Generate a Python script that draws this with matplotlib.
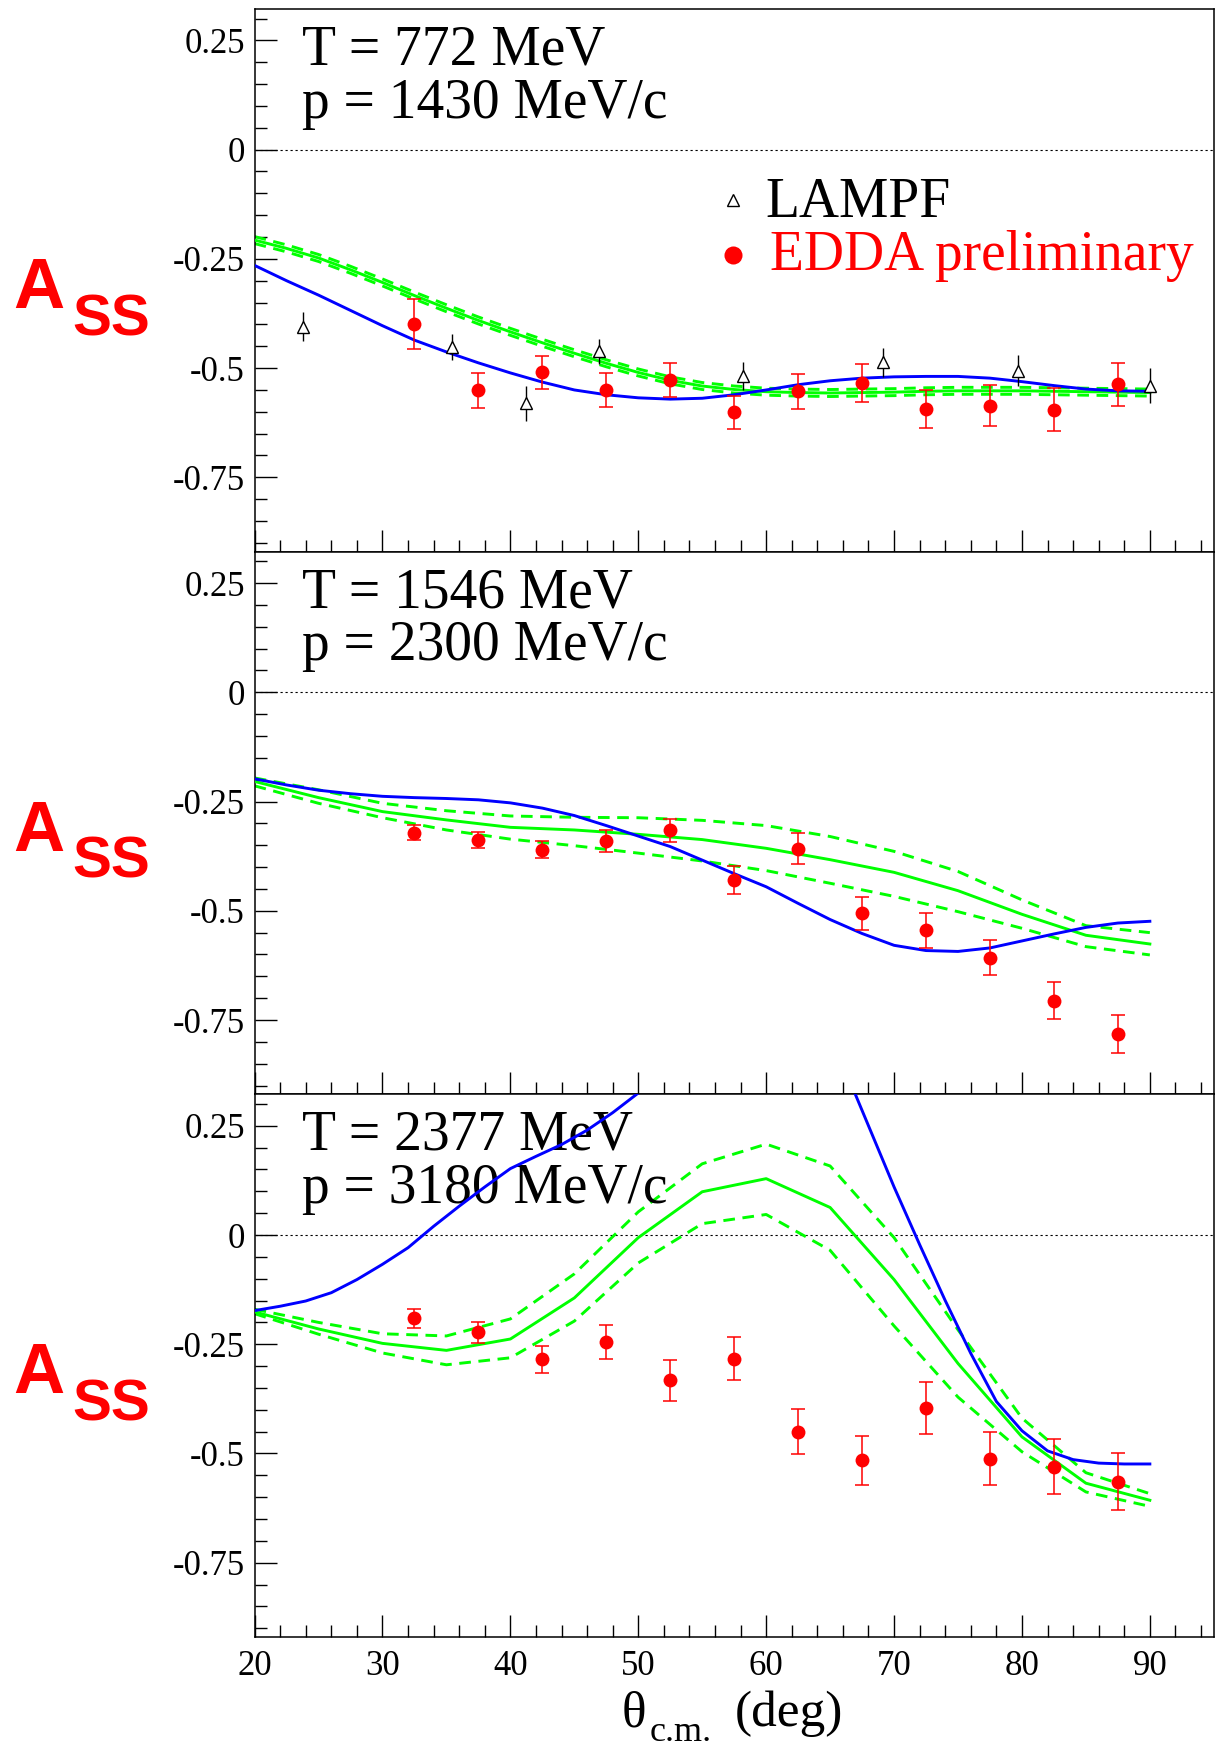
import numpy as np
import matplotlib.pyplot as plt
from matplotlib.ticker import MultipleLocator, FuncFormatter

plt.rcParams['font.family'] = ['Liberation Serif', 'DejaVu Serif']
plt.rcParams['mathtext.fontset'] = 'stix'
plt.rcParams['axes.unicode_minus'] = False

# ---- EDDA (preliminary), same angles at every energy ----
edda_theta = [32.5, 37.5, 42.5, 47.5, 52.5, 57.5, 62.5, 67.5, 72.5, 77.5, 82.5, 87.5]

edda_772 = [-0.399, -0.551, -0.510, -0.550, -0.527, -0.601, -0.553, -0.534, -0.593, -0.586, -0.595, -0.537]
edda_772_err = [0.057, 0.040, 0.037, 0.038, 0.038, 0.038, 0.040, 0.043, 0.044, 0.047, 0.050, 0.049]

edda_1546 = [-0.321, -0.338, -0.360, -0.341, -0.316, -0.430, -0.358, -0.506, -0.545, -0.607, -0.706, -0.782]
edda_1546_err = [0.018, 0.018, 0.020, 0.025, 0.027, 0.032, 0.035, 0.038, 0.040, 0.041, 0.042, 0.043]

edda_2377 = [-0.191, -0.222, -0.284, -0.245, -0.332, -0.283, -0.450, -0.515, -0.396, -0.512, -0.530, -0.565]
edda_2377_err = [0.021, 0.024, 0.031, 0.038, 0.047, 0.049, 0.052, 0.056, 0.060, 0.061, 0.063, 0.065]

# ---- LAMPF, 772 MeV only ----
lampf_theta = [23.8, 35.4, 41.2, 46.9, 58.2, 69.1, 79.7, 90.0]
lampf_772 = [-0.405, -0.452, -0.580, -0.462, -0.518, -0.487, -0.506, -0.540]
lampf_772_err = [0.034, 0.030, 0.040, 0.028, 0.031, 0.033, 0.035, 0.040]

# ---- model curves ----
# 772 MeV
th_772 = [20, 22.5, 25, 27.5, 30, 32.5, 35, 37.5, 40, 42.5, 45, 47.5, 50, 52.5, 55,
          57.5, 60, 62.5, 65, 67.5, 70, 72.5, 75, 77.5, 80, 82.5, 85, 87.5, 90]
blue_772 = [-0.265, -0.300, -0.333, -0.368, -0.403, -0.436, -0.463, -0.488, -0.511, -0.532,
            -0.550, -0.561, -0.568, -0.571, -0.569, -0.561, -0.550, -0.538, -0.529, -0.523,
            -0.520, -0.519, -0.519, -0.523, -0.531, -0.540, -0.548, -0.552, -0.553]
green_772 = [-0.207, -0.226, -0.248, -0.275, -0.304, -0.334, -0.363, -0.391, -0.417, -0.442,
             -0.466, -0.489, -0.510, -0.528, -0.541, -0.549, -0.554, -0.556, -0.557, -0.556,
             -0.555, -0.553, -0.552, -0.552, -0.552, -0.553, -0.554, -0.555, -0.556]
green_772_hi = [-0.199, -0.218, -0.240, -0.267, -0.296, -0.326, -0.355, -0.383, -0.409, -0.434,
                -0.458, -0.481, -0.502, -0.520, -0.533, -0.541, -0.546, -0.548, -0.549, -0.548,
                -0.547, -0.545, -0.544, -0.544, -0.544, -0.545, -0.546, -0.547, -0.548]
green_772_lo = [-0.215, -0.234, -0.256, -0.283, -0.312, -0.342, -0.371, -0.399, -0.425, -0.450,
                -0.474, -0.497, -0.518, -0.536, -0.549, -0.557, -0.562, -0.564, -0.565, -0.564,
                -0.563, -0.561, -0.560, -0.560, -0.560, -0.561, -0.562, -0.563, -0.564]

# 1546 MeV
th_1546_blue = th_772
blue_1546 = [-0.198, -0.212, -0.224, -0.232, -0.238, -0.241, -0.243, -0.246, -0.253, -0.265,
             -0.282, -0.305, -0.329, -0.353, -0.384, -0.415, -0.445, -0.483, -0.520, -0.552,
             -0.579, -0.591, -0.593, -0.585, -0.569, -0.553, -0.538, -0.528, -0.524]
th_green = [20, 25, 30, 35, 40, 45, 50, 55, 60, 65, 70, 75, 80, 85, 90]
green_1546 = [-0.204, -0.241, -0.273, -0.292, -0.309, -0.315, -0.325, -0.337, -0.357, -0.383,
              -0.412, -0.454, -0.508, -0.556, -0.576]
green_1546_hi = [-0.196, -0.223, -0.254, -0.271, -0.283, -0.286, -0.287, -0.293, -0.305, -0.330,
                 -0.364, -0.410, -0.475, -0.534, -0.550]
green_1546_lo = [-0.214, -0.254, -0.287, -0.315, -0.336, -0.351, -0.368, -0.386, -0.408, -0.437,
                 -0.467, -0.502, -0.540, -0.582, -0.601]

# 2377 MeV
th_2377_blue = [20, 22, 24, 26, 28, 30, 32, 34, 36, 38, 40, 42, 44, 46, 48, 50, 52, 54,
                56, 58, 60, 62, 64, 66, 68, 70, 72, 74, 76, 78, 80, 82, 84, 86, 88, 90]
blue_2377 = [-0.173, -0.163, -0.151, -0.132, -0.102, -0.067, -0.029, 0.020, 0.066, 0.110,
             0.152, 0.180, 0.207, 0.240, 0.280, 0.325, 0.370, 0.410, 0.450, 0.480,
             0.500, 0.500, 0.470, 0.390, 0.250, 0.110, -0.022, -0.150, -0.271, -0.381,
             -0.448, -0.494, -0.514, -0.522, -0.524, -0.524]
green_2377 = [-0.176, -0.215, -0.248, -0.264, -0.238, -0.144, -0.006, 0.099, 0.129, 0.063,
              -0.102, -0.294, -0.462, -0.568, -0.607]
green_2377_hi = [-0.170, -0.200, -0.226, -0.231, -0.192, -0.089, 0.053, 0.163, 0.208, 0.158,
                 -0.006, -0.217, -0.419, -0.544, -0.592]
green_2377_lo = [-0.180, -0.227, -0.270, -0.297, -0.281, -0.197, -0.064, 0.026, 0.047, -0.035,
                 -0.208, -0.371, -0.496, -0.588, -0.621]

energy_labels = [('T = 772 MeV', 'p = 1430 MeV/c'),
                 ('T = 1546 MeV', 'p = 2300 MeV/c'),
                 ('T = 2377 MeV', 'p = 3180 MeV/c')]

panels = [
    dict(blue=(th_772, blue_772),
         green=(th_772, green_772, green_772_hi, green_772_lo),
         edda=(edda_772, edda_772_err)),
    dict(blue=(th_1546_blue, blue_1546),
         green=(th_green, green_1546, green_1546_hi, green_1546_lo),
         edda=(edda_1546, edda_1546_err)),
    dict(blue=(th_2377_blue, blue_2377),
         green=(th_green, green_2377, green_2377_hi, green_2377_lo),
         edda=(edda_2377, edda_2377_err)),
]

W, H = 1216, 1751
fig = plt.figure(figsize=(W / 100, H / 100), dpi=100)

left, right = 254.6 / W, 1213.8 / W
bottom, top = 0.0651, 0.9949
ph = (top - bottom) / 3

RED = '#ff0000'
BLUE = '#0000ff'
GREEN = '#00ff00'

yfmt = FuncFormatter(lambda v, pos: '0' if abs(v) < 1e-9 else ('%g' % v))

for i, (pan, (tline, pline)) in enumerate(zip(panels, energy_labels)):
    ax = fig.add_axes([left, top - (i + 1) * ph, right - left, ph])
    ax.set_xlim(20, 95)
    ax.set_ylim(-0.92, 0.322)

    # zero reference
    ax.axhline(0, color='black', lw=0.8, ls=(0, (2, 2.5)), zorder=1)

    # model curves
    th, g, ghi, glo = pan['green']
    ax.plot(th, ghi, color=GREEN, lw=2.1, dashes=(4, 2.6), zorder=2)
    ax.plot(th, glo, color=GREEN, lw=2.1, dashes=(4, 2.6), zorder=2)
    ax.plot(th, g, color=GREEN, lw=2.1, zorder=3)
    bt, by = pan['blue']
    ax.plot(bt, by, color=BLUE, lw=2.1, zorder=4)

    # data
    ey, ee = pan['edda']
    ax.errorbar(edda_theta, ey, yerr=ee, fmt='none', ecolor=RED,
                elinewidth=1.1, capsize=5, capthick=1.1, zorder=6)
    ax.plot(edda_theta, ey, 'o', color=RED, ms=10, mew=0, zorder=7)
    if i == 0:
        ax.errorbar(lampf_theta, lampf_772, yerr=lampf_772_err, fmt='none',
                    ecolor='black', elinewidth=1.0, capsize=0, zorder=5)
        ax.plot(lampf_theta, lampf_772, '^', ms=9, mfc='white', mec='black',
                mew=1.0, zorder=5.5)
        # legend
        ax.plot([0.4988], [0.6479], transform=ax.transAxes, marker='^', ms=9,
                mfc='white', mec='black', mew=1.0, ls='none', clip_on=False)
        ax.text(0.5327, 0.6171, 'LAMPF', transform=ax.transAxes, fontsize=40,
                color='black', va='baseline', ha='left')
        ax.plot([0.4988], [0.5465], transform=ax.transAxes, marker='o', ms=13,
                color=RED, mew=0, ls='none', clip_on=False)
        ax.text(0.5374, 0.5189, 'EDDA preliminary', transform=ax.transAxes,
                fontsize=40, color=RED, va='baseline', ha='left')

    ax.text(0.049, 0.8976, tline, transform=ax.transAxes, fontsize=40,
            va='baseline', ha='left')
    ax.text(0.049, 0.7994, pline, transform=ax.transAxes, fontsize=40,
            va='baseline', ha='left')

    # A_SS label
    ax.text(-0.2519, 0.4489, 'A', transform=ax.transAxes, fontsize=51,
            fontweight='bold', family='Liberation Sans', color=RED,
            va='baseline', ha='left')
    ax.text(-0.1904, 0.3991, 'SS', transform=ax.transAxes, fontsize=42,
            fontweight='bold', family='Liberation Sans', color=RED,
            va='baseline', ha='left')

    ax.xaxis.set_major_locator(MultipleLocator(10))
    ax.xaxis.set_minor_locator(MultipleLocator(2))
    ax.yaxis.set_major_locator(MultipleLocator(0.25))
    ax.yaxis.set_minor_locator(MultipleLocator(0.05))
    ax.yaxis.set_major_formatter(yfmt)
    ax.tick_params(which='both', direction='in', top=False, right=False,
                   width=1.0, labelsize=25, color='black')
    ax.tick_params(which='major', length=16, pad=7)
    ax.tick_params(which='minor', length=8.5)
    if i < 2:
        ax.tick_params(axis='x', labelbottom=False)
    else:
        ax.tick_params(axis='x', pad=9)
    for sp in ax.spines.values():
        sp.set_linewidth(1.1)

# x axis title: theta with c.m. subscript
fig.text(622 / W, 1 - 1726 / H, 'θ', fontsize=37, ha='left', va='baseline')
fig.text(650 / W, 1 - 1741 / H, 'c.m.', fontsize=26, ha='left', va='baseline')
fig.text(735 / W, 1 - 1726 / H, '(deg)', fontsize=37, ha='left', va='baseline')

fig.savefig('out.png', dpi=100)
